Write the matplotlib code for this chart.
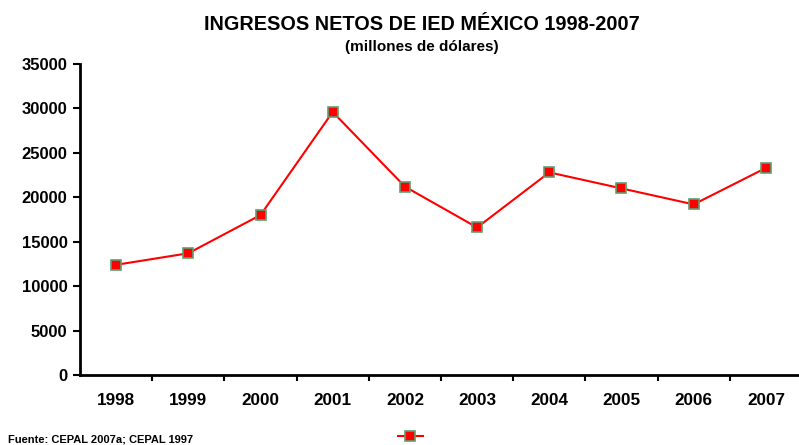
import matplotlib.pyplot as plt

years = ['1998', '1999', '2000', '2001', '2002', '2003', '2004', '2005', '2006', '2007']
ied = [12400, 13700, 18000, 29600, 21200, 16600, 22800, 21000, 19200, 23300]
yticks = [0, 5000, 10000, 15000, 20000, 25000, 30000, 35000]

plt.rcParams['font.family'] = ['Liberation Sans', 'DejaVu Sans']
plt.rcParams['font.weight'] = 'bold'

fig = plt.figure(figsize=(7.99, 4.45), dpi=100)
ax = fig.add_axes([80 / 799, 1 - 375 / 445, 722 / 799, 311 / 445])

x = list(range(len(years)))
line, = ax.plot(x, ied, color='red', lw=1.5, marker='s', markersize=6.5,
                markerfacecolor='red', markeredgecolor='#5e9f72', markeredgewidth=1.2)

ax.set_xlim(-0.5, len(years) - 0.5)
ax.set_ylim(0, 35000)
ax.set_yticks(yticks)
ax.set_yticklabels([str(v) for v in yticks], fontsize=12, fontweight='bold')
ax.set_xticks(x)
ax.set_xticklabels(years, fontsize=12.3, fontweight='bold')
ax.tick_params(axis='x', length=0, pad=13)
ax.set_xticks([i + 0.5 for i in x[:-1]], minor=True)
ax.tick_params(axis='x', which='minor', length=4, width=1.5, direction='out')
ax.tick_params(axis='y', length=5, width=1.5, direction='out', pad=4)

for s in ['top', 'right']:
    ax.spines[s].set_visible(False)
for s in ['left', 'bottom']:
    ax.spines[s].set_linewidth(2)

fig.text(422 / 799, 1 - 25 / 445, 'INGRESOS NETOS DE IED MÉXICO 1998-2007', ha='center', va='center',
         fontsize=14.3, fontweight='bold')
fig.text(422 / 799, 1 - 47 / 445, '(millones de dólares)', ha='center', va='center',
         fontsize=11, fontweight='bold')
fig.text(8 / 799, 1 - 440 / 445, 'Fuente: CEPAL 2007a; CEPAL 1997', ha='left', va='center',
         fontsize=8, fontweight='bold')

fig.legend(handles=[line], labels=[''], loc='center', bbox_to_anchor=(410 / 799, 1 - 437 / 445),
           frameon=False, handlelength=1.8, handletextpad=0, borderpad=0)

fig.savefig('out.png', dpi=100)
